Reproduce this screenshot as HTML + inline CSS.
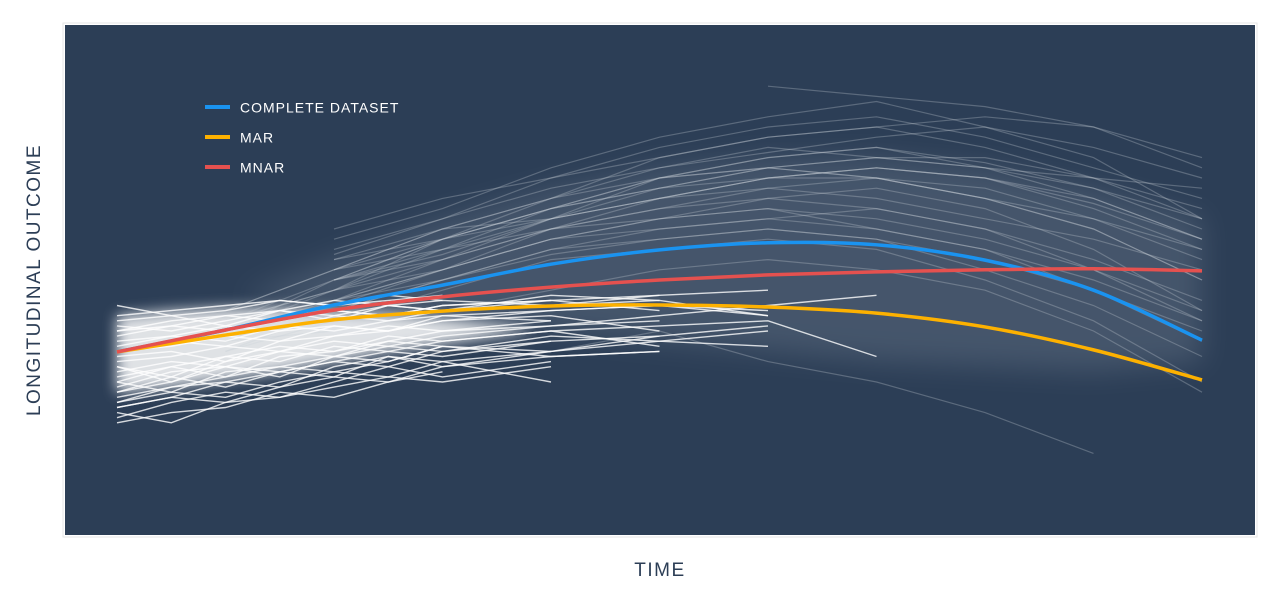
<!DOCTYPE html>
<html><head><meta charset="utf-8"><style>
html,body{margin:0;padding:0;background:#fff;width:1280px;height:600px;overflow:hidden}
svg{display:block}
text{font-family:"Liberation Sans",sans-serif}
</style></head><body>
<svg id="chart" width="1280" height="600">
<defs><filter id="blur" x="-30%" y="-60%" width="160%" height="220%"><feGaussianBlur stdDeviation="14"/></filter>
<filter id="blur2" x="-30%" y="-60%" width="160%" height="220%"><feGaussianBlur stdDeviation="7"/></filter>
<clipPath id="panelClip"><rect x="65" y="25" width="1190" height="510"/></clipPath></defs>
<rect x="63" y="23" width="1194" height="514" fill="#fff" stroke="#e6e6e6"/>
<rect x="65" y="25" width="1190" height="510" fill="#2c3e56"/>
<g id="bands" clip-path="url(#panelClip)"></g>
<g id="gray"></g>
<g id="white"></g>
<g id="curves"></g>
<g>
<g><line x1="205" y1="107" x2="230" y2="107" stroke="#1a93f0" stroke-width="4"/><text x="240" y="112.5" fill="#fff" font-size="14" letter-spacing="1">COMPLETE DATASET</text></g>
<g><line x1="205" y1="137" x2="230" y2="137" stroke="#fdb100" stroke-width="4"/><text x="240" y="142.5" fill="#fff" font-size="14" letter-spacing="1">MAR</text></g>
<g><line x1="205" y1="167" x2="230" y2="167" stroke="#e5514f" stroke-width="4"/><text x="240" y="172.5" fill="#fff" font-size="14" letter-spacing="1">MNAR</text></g>
</g>
<text x="660" y="576" text-anchor="middle" fill="#2c3e56" font-size="19" letter-spacing="1.5">TIME</text>
<text transform="translate(40,280) rotate(-90)" text-anchor="middle" fill="#2c3e56" font-size="19" letter-spacing="1.5">LONGITUDINAL OUTCOME</text>
</svg>
<script>
const times = [0,1,2,3,4,5,6,7,8,9,10];
const completeMean = [35.9,40.2,45.1,49.0,53.1,55.9,57.3,56.9,53.9,48.0,38.2];
const marMean = [35.9,39.2,42.2,43.9,44.9,45.1,44.7,43.5,40.8,36.3,30.4];
const mnarMean = [35.9,40.2,44.1,46.7,48.6,50.0,51.0,51.6,52.0,52.2,51.8];
const whiteBandTimes = [0,0.5,1,1.5,2,2.5,3,3.8];
const whiteBandUpper = [43,44,44.5,44.5,44,43.5,42.5,40.5];
const whiteBandLower = [28,29,30.5,32,34,36,37.5,40];
const grayBandTimes = [1.2,2,3,4,5,6,7,8,9,10];
const grayBandUpper = [47,54,62,68,72,74,74,72,68,62];
const grayBandLower = [46,44,42,40,38,36,34,33,32,34];
const whiteTimes = [0,0.5,1,1.5,2,2.5,3,4,5,6,7];
const whiteSeries = [
[30,33,31,35,36,38,37,null,null,null,null],
[25,27,30,29,33,35,34,36,null,null,null],
[40,41,43,42,44,43,45,46,44,null,null],
[22,24,25,28,27,30,32,null,null,null,null],
[36,38,37,40,41,40,42,44,45,44,null],
[28,31,29,32,34,33,36,38,null,null,null],
[43,44,45,46,45,47,46,null,null,null,null],
[33,30,34,36,35,38,40,41,42,null,null],
[26,28,27,30,32,31,34,30,null,null,null],
[38,39,41,40,43,42,44,45,46,43,null],
[31,33,35,34,37,36,38,40,41,42,35],
[24,22,26,27,29,31,30,33,null,null,null],
[41,40,42,44,43,45,44,46,47,null,null],
[29,32,33,31,35,37,36,39,38,37,null],
[35,36,34,38,39,41,40,42,null,null,null],
[27,29,31,33,32,34,37,35,36,null,null],
[45,43,44,46,45,46,47,null,null,null,null],
[32,34,33,36,38,37,39,41,43,45,47],
[23,26,28,27,30,33,31,34,null,null,null],
[37,39,38,41,40,42,43,44,45,43,null],
[34,35,37,36,39,40,42,43,40,null,null],
[30,28,32,33,35,34,37,36,39,null,null],
[39,41,40,42,44,43,45,46,null,null,null],
[26,29,30,32,31,35,33,36,38,40,null],
[42,43,41,44,46,45,44,47,46,null,null],
[33,31,35,37,36,39,38,40,37,null,null],
[28,30,33,32,34,36,35,38,39,41,null],
[36,37,39,38,41,40,43,42,null,null,null],
[25,27,26,29,31,30,33,35,36,null,null],
[40,42,43,44,42,45,46,45,47,48,null]
];
const graySeries = [
[null,null,45,52,60,66,70,72,70,65,58],
[null,null,50,55,62,70,74,76,73,68,60],
[null,40,48,58,64,68,72,70,66,60,50],
[null,null,55,62,70,76,80,82,78,72,66],
[null,38,44,50,55,58,60,58,52,45,35],
[null,null,52,60,66,72,75,78,80,76,70],
[null,42,50,56,60,62,64,60,56,48,40],
[null,null,58,64,72,78,82,85,80,74,62],
[null,36,42,48,54,56,58,56,50,42,30],
[null,null,48,56,64,70,72,74,72,70,68],
[null,44,52,60,62,66,68,66,62,58,52],
[null,null,46,52,58,62,66,68,64,56,44],
[null,40,46,54,62,68,72,74,74,70,62],
[null,null,54,58,64,68,70,72,70,66,58],
[null,38,40,44,48,52,54,52,48,40,28],
[null,null,50,58,66,74,78,80,76,70,64],
[null,42,48,52,58,60,62,64,60,54,46],
[null,null,56,62,68,72,76,74,72,68,62],
[null,36,44,50,56,60,62,60,56,50,42],
[null,null,52,58,62,66,70,72,70,64,56],
[null,40,50,58,64,70,74,76,72,66,58],
[null,null,46,50,56,58,60,58,54,48,38],
[null,44,52,56,62,66,70,70,68,62,54],
[null,null,60,66,70,74,78,80,82,80,74],
[null,38,46,52,58,62,64,62,58,52,44],
[null,null,50,54,60,64,66,64,60,52,42],
[null,null,null,null,36,40,34,30,24,16,null],
[null,null,null,null,null,null,88,86,84,80,72],
[null,42,48,54,60,64,68,70,66,60,50],
[null,null,54,60,66,70,72,70,66,62,56]
];
const NS="http://www.w3.org/2000/svg";
const X0=117, X1=1202, TMAX=10, PY0=535, PY1=25;
function xs(t){return X0+(X1-X0)*t/TMAX;}
function ys(v){return PY0-(PY0-PY1)*v/100;}
function segs(ts,vals){const out=[];let cur=[];vals.forEach((v,i)=>{if(v===null){if(cur.length)out.push(cur);cur=[];}else cur.push(xs(ts[i]).toFixed(1)+","+ys(v).toFixed(1));});if(cur.length)out.push(cur);return out;}
function band(ts,up,lo,fill,op,name,filt){
  const pts=ts.map((t,i)=>xs(t)+","+ys(up[i])).concat(ts.map((t,i)=>xs(t)+","+ys(lo[i])).reverse());
  const p=document.createElementNS(NS,"polygon");
  p.setAttribute("points",pts.join(" "));p.setAttribute("fill",fill);p.setAttribute("opacity",op);
  p.setAttribute("filter",filt);
  
  
  document.getElementById("bands").appendChild(p);
}
band(grayBandTimes,grayBandUpper,grayBandLower,"#8f9bab",0.25,"gray-density-band","url(#blur)");
band(whiteBandTimes,whiteBandUpper,whiteBandLower,"#ffffff",0.85,"white-density-band","url(#blur2)");
graySeries.forEach(s=>segs(times,s).forEach(seg=>{
  const l=document.createElementNS(NS,"polyline");
  l.setAttribute("points",seg.join(" "));l.setAttribute("fill","none");l.setAttribute("stroke","#c9d0d8");l.setAttribute("stroke-opacity","0.3");l.setAttribute("stroke-width","1.2");
  
  
  document.getElementById("gray").appendChild(l);
}));
whiteSeries.forEach(s=>segs(whiteTimes,s).forEach(seg=>{
  const l=document.createElementNS(NS,"polyline");
  l.setAttribute("points",seg.join(" "));l.setAttribute("fill","none");l.setAttribute("stroke","#ffffff");l.setAttribute("stroke-opacity","0.8");l.setAttribute("stroke-width","1.4");
  
  
  document.getElementById("white").appendChild(l);
}));
function smoothPath(vals){
  const p=vals.map((v,i)=>[xs(times[i]),ys(v)]);
  let d="M"+p[0][0]+","+p[0][1];
  for(let i=0;i<p.length-1;i++){
    const p0=p[Math.max(0,i-1)],p1=p[i],p2=p[i+1],p3=p[Math.min(p.length-1,i+2)];
    const c1=[p1[0]+(p2[0]-p0[0])/6,p1[1]+(p2[1]-p0[1])/6];
    const c2=[p2[0]-(p3[0]-p1[0])/6,p2[1]-(p3[1]-p1[1])/6];
    d+=" C"+c1.join(",")+" "+c2.join(",")+" "+p2.join(",");
  }
  return d;
}
function curve(vals,color,name){
  const l=document.createElementNS(NS,"path");
  l.setAttribute("d",smoothPath(vals));l.setAttribute("fill","none");l.setAttribute("stroke",color);l.setAttribute("stroke-width","3.5");
  
  
  document.getElementById("curves").appendChild(l);
}
curve(completeMean,"#1a93f0","complete-dataset-curve");
curve(marMean,"#fdb100","mar-curve");
curve(mnarMean,"#e5514f","mnar-curve");
</script>
</body></html>
